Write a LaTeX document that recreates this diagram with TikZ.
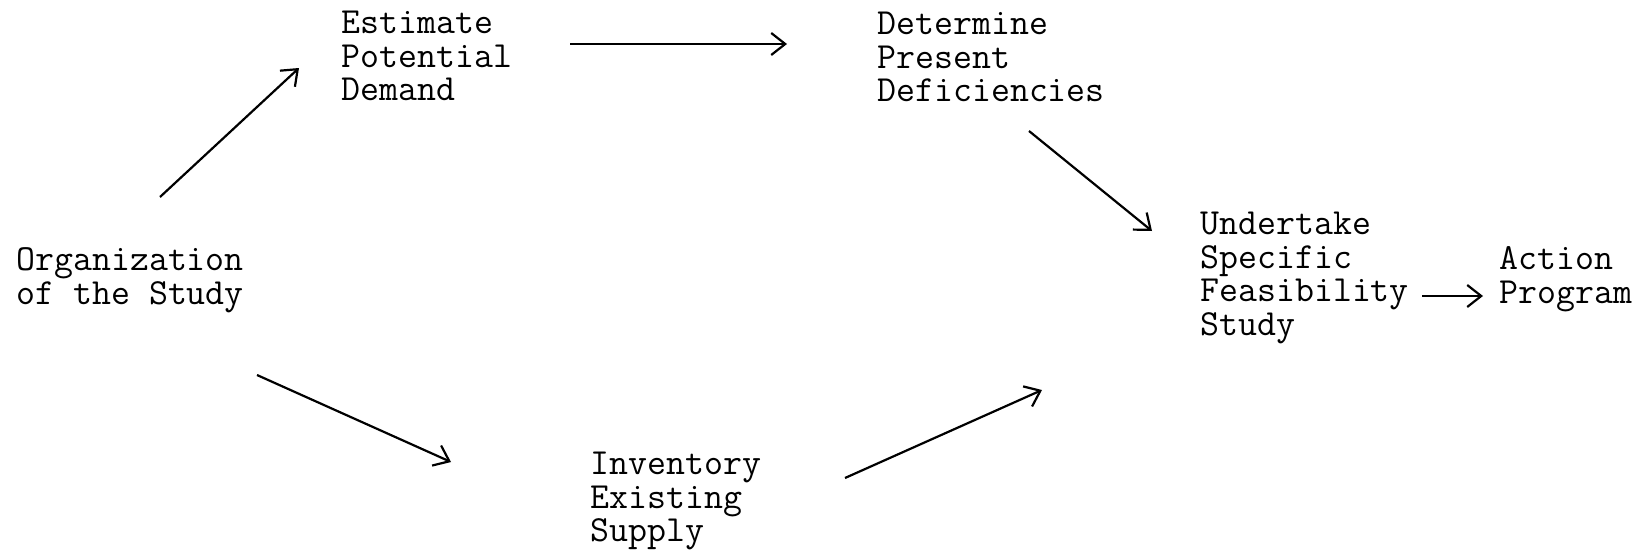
\documentclass[tikz,border=0pt]{standalone}
\usepackage{fontspec}
\usetikzlibrary{arrows.meta}
\tikzset{
  lbl/.style={anchor=west, align=left, inner sep=0pt, font=\ttfamily\addfontfeatures{FakeBold=1.8}\fontsize{18.4pt}{16.8pt}\selectfont},
  arr/.style={line width=1.1pt, -{Straight Barb[length=7pt, width=11pt, line width=1.1pt]}}
}
\begin{document}
\begin{tikzpicture}[x=0.5pt, y=-0.5pt]
\useasboundingbox (0,0) rectangle (1646,552);
\node[lbl] (org) at (16,280) {Organization\\of the Study};
\node[lbl] (est) at (341,56) {Estimate\\Potential\\Demand};
\node[lbl] (det) at (877,57) {Determine\\Present\\Deficiencies};
\node[lbl] (und) at (1200,278) {Undertake\\Specific\\Feasibility\\Study};
\node[lbl] (act) at (1499,279) {Action\\Program};
\node[lbl] (inv) at (590,501) {Inventory\\Existing\\Supply};
\coordinate (a1s) at (160,197); \coordinate (a1e) at (299,68);
\coordinate (a2s) at (570,44);  \coordinate (a2e) at (787,44);
\coordinate (a3s) at (1029,131); \coordinate (a3e) at (1152,231);
\coordinate (a4s) at (257,375); \coordinate (a4e) at (451,462);
\coordinate (a5s) at (845,478); \coordinate (a5e) at (1042,390);
\coordinate (a6s) at (1422,296); \coordinate (a6e) at (1483,296);
\draw[arr] (a1s) -- (a1e);
\draw[arr] (a2s) -- (a2e);
\draw[arr] (a3s) -- (a3e);
\draw[arr] (a4s) -- (a4e);
\draw[arr] (a5s) -- (a5e);
\draw[arr] (a6s) -- (a6e);
\end{tikzpicture}
\end{document}
